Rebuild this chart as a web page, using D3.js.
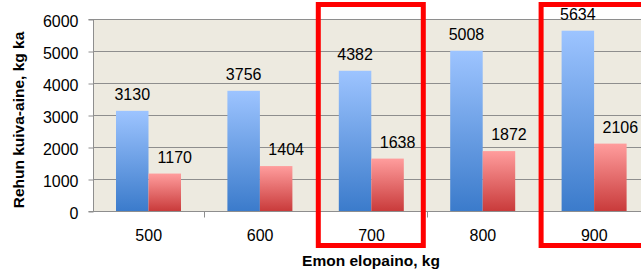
<!DOCTYPE html>
<html>
<head>
<meta charset="utf-8">
<script src="https://cdn.jsdelivr.net/npm/d3@7/dist/d3.min.js"></script>
<style>
  body { margin: 0; background: #fff; }
  svg { display: block; font-family: "Liberation Sans", Arial, sans-serif; }
</style>
</head>
<body>
<svg id="chart"></svg>
<script>
// data
var categories = ['500', '600', '700', '800', '900'];
var seriesBlue = [3130, 3756, 4382, 5008, 5634];
var seriesRed = [1170, 1404, 1638, 1872, 2106];
var yTicks = [0, 1000, 2000, 3000, 4000, 5000, 6000];
var highlighted = ['700', '900'];

var svgWidth = 641;
var svgHeight = 270;
var plotLeft = 93, plotRight = 650, plotTop = 19, plotBottom = 211;

var svg = d3.select('#chart')
    .attr('width', svgWidth)
    .attr('height', svgHeight);

var defs = svg.append('defs');
function grad(id, c1, c2) {
    var g = defs.append('linearGradient').attr('id', id)
        .attr('x1', 0).attr('y1', 0).attr('x2', 0).attr('y2', 1);
    g.append('stop').attr('offset', '0%').attr('stop-color', c1);
    g.append('stop').attr('offset', '100%').attr('stop-color', c2);
}
grad('gBlue', '#9dc4ff', '#3b7bcb');
grad('gRed', '#ff9d9d', '#c93b3b');

var x = d3.scaleBand().domain(categories).range([plotLeft, plotRight]).paddingInner(0);
var sub = d3.scaleBand().domain(['blue', 'red']).range([23, 88]).padding(0);
var y = d3.scaleLinear().domain([0, 6000]).range([plotBottom, plotTop]);

// plot background
svg.append('rect')
    .attr('x', plotLeft).attr('y', plotTop)
    .attr('width', plotRight - plotLeft).attr('height', plotBottom - plotTop)
    .attr('fill', '#edeae0');

// gridlines
svg.selectAll('.grid').data(yTicks.slice(1))
    .enter().append('line')
    .attr('x1', plotLeft).attr('x2', plotRight)
    .attr('y1', function(d) { return Math.round(y(d)) + 0.5; })
    .attr('y2', function(d) { return Math.round(y(d)) + 0.5; })
    .attr('stroke', '#8e8e8e').attr('stroke-width', 1);

// y axis
var yAxis = d3.axisLeft(y).tickValues(yTicks).tickSize(5).tickPadding(10).tickFormat(d3.format('d'));
var gy = svg.append('g').attr('transform', 'translate(' + (plotLeft + 0.5) + ',0.5)').call(yAxis);
gy.select('.domain').attr('stroke', '#8e8e8e').attr('d', 'M-5,' + plotTop + 'H0V' + plotBottom + 'H-5');
gy.selectAll('line').attr('stroke', '#8e8e8e');
gy.selectAll('text').attr('font-size', 16).attr('fill', '#000')
    .attr('font-family', '"Liberation Sans", Arial, sans-serif').attr('dy', '0.45em');

// x axis
var xAxis = d3.axisBottom(x).tickSize(0).tickPadding(18);
var gx = svg.append('g').attr('transform', 'translate(0,' + (plotBottom + 0.5) + ')').call(xAxis);
gx.select('.domain').attr('stroke', '#8e8e8e').attr('d', 'M' + plotLeft + ',0H' + plotRight);
gx.selectAll('text').attr('font-size', 16).attr('fill', '#000')
    .attr('font-family', '"Liberation Sans", Arial, sans-serif');
gx.selectAll('.sep').data(categories)
    .enter().append('line')
    .attr('x1', function(d) { return Math.round(x(d) + x.bandwidth()) + 0.5; })
    .attr('x2', function(d) { return Math.round(x(d) + x.bandwidth()) + 0.5; })
    .attr('y1', 0).attr('y2', 6)
    .attr('stroke', '#8e8e8e');

// bars
var groups = svg.selectAll('.cat').data(categories)
    .enter().append('g')
    .attr('transform', function(d) { return 'translate(' + x(d) + ',0)'; });

groups.append('rect')
    .attr('x', sub('blue'))
    .attr('y', function(d, i) { return y(seriesBlue[i]); })
    .attr('width', sub.bandwidth())
    .attr('height', function(d, i) { return plotBottom - y(seriesBlue[i]); })
    .attr('fill', 'url(#gBlue)');

groups.append('rect')
    .attr('x', sub('red'))
    .attr('y', function(d, i) { return y(seriesRed[i]); })
    .attr('width', sub.bandwidth())
    .attr('height', function(d, i) { return plotBottom - y(seriesRed[i]); })
    .attr('fill', 'url(#gRed)');

groups.append('text')
    .text(function(d, i) { return seriesBlue[i]; })
    .attr('x', sub('blue') + sub.bandwidth() / 2)
    .attr('y', function(d, i) { return y(seriesBlue[i]) - 11; })
    .attr('text-anchor', 'middle')
    .attr('font-size', 16);

groups.append('text')
    .text(function(d, i) { return seriesRed[i]; })
    .attr('x', sub('red') + sub.bandwidth() / 2 + 10)
    .attr('y', function(d, i) { return y(seriesRed[i]) - 11; })
    .attr('text-anchor', 'middle')
    .attr('font-size', 16);

// axis titles
svg.append('text')
    .text('Emon elopaino, kg')
    .attr('x', 371).attr('y', 266)
    .attr('text-anchor', 'middle')
    .attr('font-size', 15.5).attr('font-weight', 'bold');

svg.append('text')
    .text('Rehun kuiva-aine, kg ka')
    .attr('transform', 'translate(24,120) rotate(-90)')
    .attr('text-anchor', 'middle')
    .attr('font-size', 15.5).attr('font-weight', 'bold');

// red highlight boxes
svg.selectAll('.hl').data(highlighted)
    .enter().append('rect')
    .attr('x', function(d) { return x(d) + 2.5; })
    .attr('y', 4.5)
    .attr('width', 105)
    .attr('height', 241)
    .attr('fill', 'none')
    .attr('stroke', '#ff0000')
    .attr('stroke-width', 5);
</script>
</body>
</html>
